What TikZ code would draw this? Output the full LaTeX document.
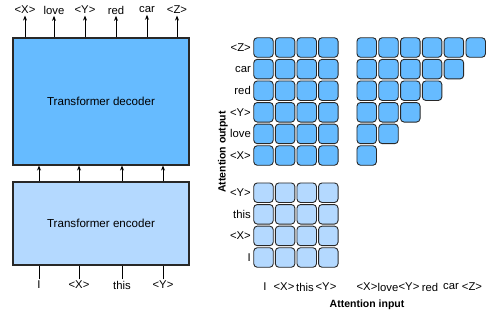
\documentclass[tikz,border=0pt]{standalone}
\usepackage{fontspec}
\setmainfont{Liberation Sans}
\usetikzlibrary{arrows.meta}
\definecolor{decA}{RGB}{102,187,255}
\definecolor{encA}{RGB}{180,217,255}
\definecolor{edge}{RGB}{40,40,40}
\begin{document}
\begin{tikzpicture}[x=1pt,y=-1pt,
  lab/.style={font=\fontsize{11.3}{13}\selectfont, inner sep=1.5pt},
  ttl/.style={font=\fontsize{10.5}{12}\selectfont\bfseries, inner sep=1pt},
  blockbox/.style={draw=edge, line width=1.1pt, minimum width=176pt, font=\fontsize{11.6}{13}\selectfont},
  cellA/.style={draw=edge, fill=decA, rounded corners=3.5pt, minimum size=19.5pt, inner sep=0pt, line width=0.9pt},
  cellB/.style={cellA, fill=encA},
  arr/.style={-{Stealth[length=5pt,width=4pt]}, line width=0.9pt, draw=black},
  ln/.style={line width=0.9pt, draw=black}]
\useasboundingbox (0,0) rectangle (500,316);
% blocks
\node[blockbox, fill=decA, minimum height=127pt] (dec) at (101,101.5) {Transformer decoder};
\node[blockbox, fill=encA, minimum height=83pt] (enc) at (101,223.5) {Transformer encoder};
% output labels
\node[lab] (o1) at (25,10) {<X>};
\node[lab] (o2) at (54,10) {love};
\node[lab] (o3) at (85,10) {<Y>};
\node[lab] (o4) at (116,10) {red};
\node[lab] (o5) at (147,10) {car};
\node[lab] (o6) at (177,10) {<Z>};
\foreach \i in {1,...,6} \draw[arr] (dec.north -| o\i) -- (o\i.south);
% input labels
\node[lab] (i1) at (39,285) {I};
\node[lab] (i2) at (79,285) {<X>};
\node[lab] (i3) at (122,285) {this};
\node[lab] (i4) at (163,285) {<Y>};
\foreach \i in {1,...,4} {
  \draw[ln] (i\i.north) -- (enc.south -| i\i);
  \draw[arr] (enc.north -| i\i) -- (dec.south -| i\i);
}
% top-left matrix (6x4)
\foreach \r in {1,...,6} \foreach \c in {1,...,4}
  \node[cellA] (a-\r-\c) at ({263.5+21.6*(\c-1)},{47.5+21.6*(\r-1)}) {};
% triangle matrix
\foreach \r in {1,...,6} {
  \pgfmathtruncatemacro{\n}{7-\r}
  \foreach \c in {1,...,\n}
    \node[cellA] (b-\r-\c) at ({366.7+21.8*(\c-1)},{47.5+21.6*(\r-1)}) {};
}
% bottom matrix (4x4)
\foreach \r in {1,...,4} \foreach \c in {1,...,4}
  \node[cellB] (e-\r-\c) at ({263.5+21.6*(\c-1)},{192.7+21.6*(\r-1)}) {};
% row labels
\node[lab, anchor=east] (r1) at (252.5,47.5) {<Z>};
\node[lab, anchor=east] (r2) at (252.5,69.1) {car};
\node[lab, anchor=east] (r3) at (252.5,90.7) {red};
\node[lab, anchor=east] (r4) at (252.5,112.3) {<Y>};
\node[lab, anchor=east] (r5) at (252.5,133.9) {love};
\node[lab, anchor=east] (r6) at (252.5,155.5) {<X>};
\node[lab, anchor=east] (s1) at (252.5,192.7) {<Y>};
\node[lab, anchor=east] (s2) at (252.5,214.3) {this};
\node[lab, anchor=east] (s3) at (252.5,235.9) {<X>};
\node[lab, anchor=east] (s4) at (252.5,257.5) {I};
% column labels
\node[lab] (c1) at (265,287) {I};
\node[lab] (c2) at (284,287) {<X>};
\node[lab] (c3) at (305,287) {this};
\node[lab] (c4) at (326,287) {<Y>};
\node[lab] (d1) at (367,287) {<X>};
\node[lab] (d2) at (388,287) {love};
\node[lab] (d3) at (409,287) {<Y>};
\node[lab] (d4) at (430,287) {red};
\node[lab] (d5) at (451,287) {car};
\node[lab] (d6) at (472,287) {<Z>};
% axis titles
\node[ttl, rotate=90] (ao) at (223,152) {Attention output};
\node[ttl] (ai) at (367,305) {Attention input};
\end{tikzpicture}
\end{document}
